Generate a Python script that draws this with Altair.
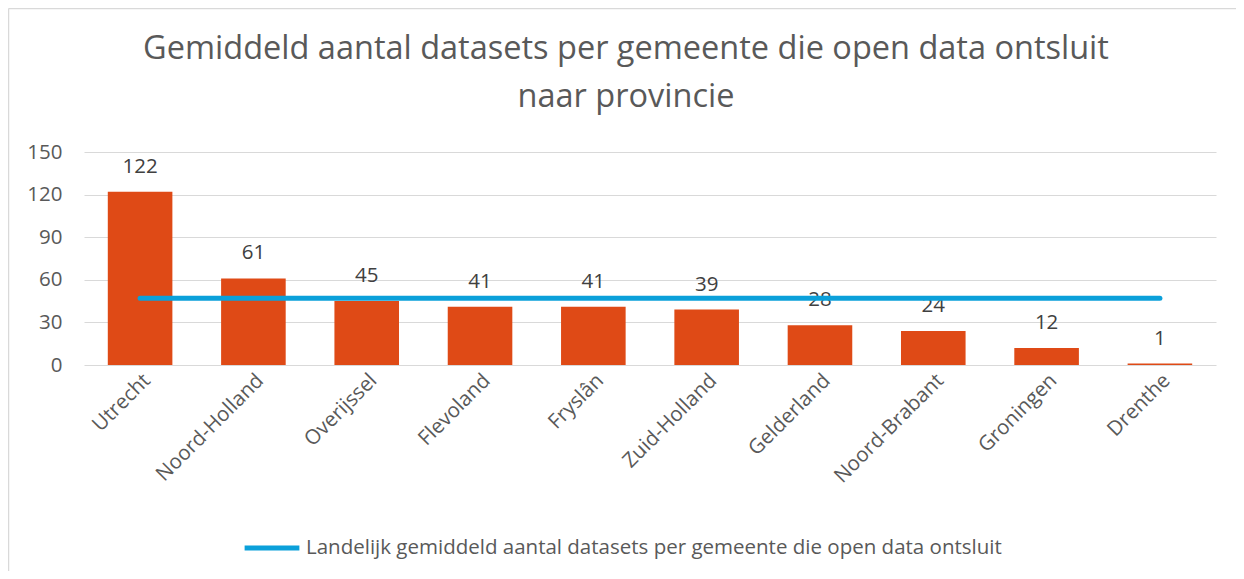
import altair as alt
import pandas as pd

provinces = ["Utrecht", "Noord-Holland", "Overijssel", "Flevoland", "Fryslân",
             "Zuid-Holland", "Gelderland", "Noord-Brabant", "Groningen", "Drenthe"]
values = [122, 61, 45, 41, 41, 39, 28, 24, 12, 1]
national_avg = [47] * len(provinces)
legend_label = "Landelijk gemiddeld aantal datasets per gemeente die open data ontsluit"
title_lines = ["Gemiddeld aantal datasets per gemeente die open data ontsluit",
               "naar provincie"]

df = pd.DataFrame({
    "provincie": provinces,
    "waarde": values,
    "gemiddeld": national_avg,
    "reeks": [legend_label] * len(provinces),
})

FONT = "Open Sans"
GREY = "#595959"
FS = 20.5

x = alt.X("provincie:N", sort=provinces, title=None,
          scale=alt.Scale(paddingInner=0.43, paddingOuter=0.21),
          axis=alt.Axis(labelAngle=315, labelFontSize=FS, labelColor=GREY,
                        labelFont=FONT, ticks=False, domain=False, labelPadding=5))

bars = alt.Chart(df).mark_bar(color="#DF4A16").encode(
    x=x,
    y=alt.Y("waarde:Q", title=None,
            scale=alt.Scale(domain=[0, 150], nice=False),
            axis=alt.Axis(values=[0, 30, 60, 90, 120, 150], labelFontSize=FS,
                          labelColor=GREY, labelFont=FONT, ticks=False,
                          domain=False, labelPadding=22, gridColor="#D9D9D9",
                          gridWidth=1)),
)

labels = alt.Chart(df).mark_text(dy=-25, baseline="middle", fontSize=FS,
                                  font=FONT, color="#404040").encode(
    x=alt.X("provincie:N", sort=provinces),
    y="waarde:Q",
    text="waarde:Q",
)

line = alt.Chart(df).mark_line(strokeWidth=5, strokeCap="round").encode(
    x=alt.X("provincie:N", sort=provinces),
    y="gemiddeld:Q",
    color=alt.Color("reeks:N", scale=alt.Scale(range=["#0BA0DA"]),
                    legend=alt.Legend(title=None, orient="none", legendX=158,
                                      legendY=366, symbolType="stroke",
                                      symbolSize=3000, symbolStrokeWidth=5,
                                      labelFontSize=FS, labelColor=GREY,
                                      labelFont=FONT, labelLimit=1000,
                                      labelOffset=4)),
)

one = pd.DataFrame({"k": [0]})
frame_top = alt.Chart(one).mark_rule(color="#D9D9D9", strokeWidth=1.5).encode(
    x=alt.value(-75.5), x2=alt.value(1160), y=alt.value(-143.5))
frame_left = alt.Chart(one).mark_rule(color="#D9D9D9", strokeWidth=1.5).encode(
    x=alt.value(-75.5), y=alt.value(-143.5), y2=alt.value(430))

title1 = alt.Chart(one).mark_text(fontSize=32.5, font=FONT, color=GREY,
                                  align="center", baseline="middle").encode(
    x=alt.value(542), y=alt.value(-103), text=alt.value(title_lines[0]))
title2 = alt.Chart(one).mark_text(fontSize=32.5, font=FONT, color=GREY,
                                  align="center", baseline="middle").encode(
    x=alt.value(542), y=alt.value(-55), text=alt.value(title_lines[1]))

chart = alt.layer(frame_top, frame_left, title1, title2, bars, labels, line).properties(
    width=1132,
    height=213,
    padding={"left": 76, "top": 144, "right": 20, "bottom": 206},
    autosize=alt.AutoSizeParams(type="none"),
    background="white",
).configure_view(stroke=None)

chart.save("out.html", embed_options={"renderer": "svg", "actions": False})
